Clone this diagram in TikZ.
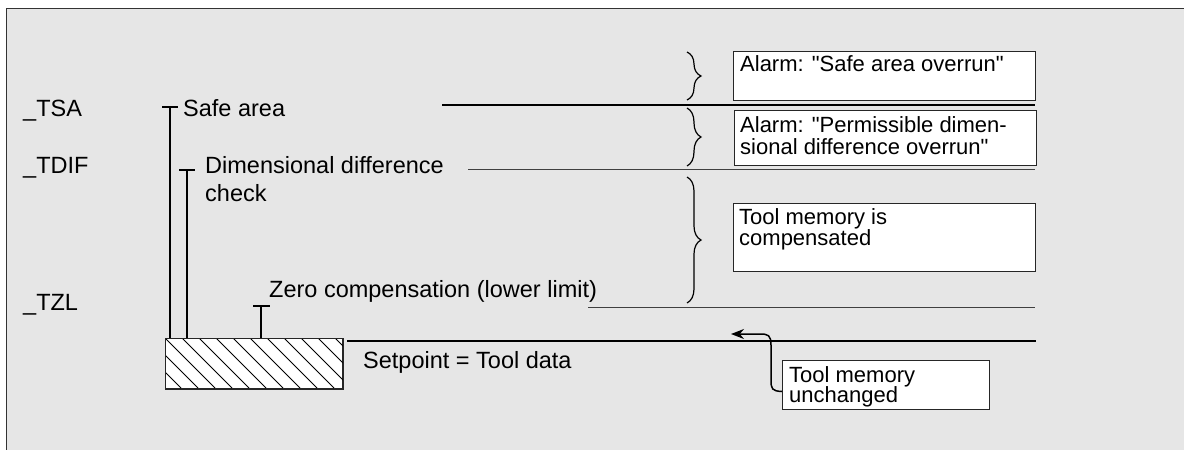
\documentclass[tikz,border=0pt]{standalone}
\usepackage{fontspec}
\setmainfont{Liberation Sans}
\usetikzlibrary{decorations.pathreplacing,arrows.meta}
\definecolor{panel}{HTML}{E6E6E6}
\begin{document}
\begin{tikzpicture}[x=1pt,y=-1pt,
  lbl/.style={anchor=base west,inner sep=0pt,font=\fontsize{23.5}{28}\selectfont},
  btxt/.style={anchor=base west,inner sep=0pt,align=left,font=\fontsize{22}{22}\selectfont},
  box/.style={draw=black!85,line width=1pt,fill=white,inner sep=0pt,anchor=north west},
  tbar/.style={line width=2pt,black},
  thickline/.style={line width=2.2pt,black},
  thinline/.style={line width=1pt,black!75},
  brc/.style={decorate,decoration={brace,amplitude=14pt},line width=1.2pt,black},
  arr/.style={line width=1.5pt,black,-{Stealth[length=13pt,width=10pt]}}]
\clip (0,0) rectangle (1184,450);
\filldraw[fill=panel,draw=black!80,line width=1pt] (6,8) rectangle (1200,470);

% left labels
\node[lbl] (tsa) at (23,116) {\_TSA};
\node[lbl] (tdif) at (23,173) {\_TDIF};
\node[lbl] (tzl) at (23,310) {\_TZL};

% hatched block
\node[draw=black!85,line width=1pt,fill=white,minimum width=177pt,minimum height=50pt,inner sep=0pt,anchor=north west] (blk) at (165,338) {};
\begin{scope}
\clip (blk.south west) rectangle (blk.north east);
\foreach \k in {-3,...,10}
  \draw[line width=0.9pt] (165+17*\k,338) -- (215+17*\k,388);
\end{scope}
\draw[draw=black!85,line width=1pt] (blk.south west) rectangle (blk.north east);

% T-bars
\coordinate (tsaT) at (170,107);
\coordinate (difT) at (187,170);
\coordinate (zerT) at (261,306);
\draw[tbar] (tsaT) -- (tsaT |- blk.north);
\draw[tbar] ([xshift=-8pt]tsaT) -- ([xshift=8pt]tsaT);
\draw[tbar] (difT) -- (difT |- blk.north);
\draw[tbar] ([xshift=-8pt]difT) -- ([xshift=8pt]difT);
\draw[tbar] (zerT) -- (zerT |- blk.north);
\draw[tbar] ([xshift=-8pt]zerT) -- ([xshift=9pt]zerT);

% labels
\node[lbl] (safe) at (183,116) {Safe area};
\node[lbl] (dim) at (205,173) {Dimensional difference};
\node[lbl] (chk) at (205,201) {check};
\node[lbl] (zero) at (269,297) {Zero compensation (lower limit)};
\node[lbl] (setp) at (363,368) {Setpoint = Tool data};

% level lines
\coordinate (l1a) at (442,105); \coordinate (l1b) at (1035,105);
\coordinate (l2a) at (468,169); \coordinate (l2b) at (1035,169);
\coordinate (l3a) at (588,307); \coordinate (l3b) at (1035,307);
\coordinate (l4a) at (347,341); \coordinate (l4b) at (1036,341);
\draw[thickline] (l1a) -- (l1b);
\draw[thinline] (l2a) -- (l2b);
\draw[thinline] (l3a) -- (l3b);
\draw[thickline] (l4a) -- (l4b);

% braces
\coordinate (br1a) at (687,52); \coordinate (br1b) at (687,100);
\coordinate (br2a) at (687,108); \coordinate (br2b) at (687,166);
\coordinate (br3a) at (687,177); \coordinate (br3b) at (687,303);
\draw[brc] (br1a) -- (br1b);
\draw[brc] (br2a) -- (br2b);
\draw[brc] (br3a) -- (br3b);

% boxes
\node[box,minimum width=302pt,minimum height=49pt] (b1) at (733,51) {};
\node[btxt] (b1t) at (740,71) {Alarm: \textquotedbl Safe area overrun\textquotedbl};
\node[box,minimum width=302pt,minimum height=55pt] (b2) at (734,110) {};
\node[btxt] (b2t) at (740,132) {Alarm: \textquotedbl Permissible dimen-};
\node[btxt] (b2u) at (740,154) {sional difference overrun\textquotedbl};
\node[box,minimum width=302pt,minimum height=68pt] (b3) at (733,203) {};
\node[btxt] (b3t) at (739,224) {Tool memory is};
\node[btxt] (b3u) at (739,245) {compensated};
\node[box,minimum width=207pt,minimum height=49pt] (b4) at (782,360) {};
\node[btxt] (b4t) at (789,382) {Tool memory};
\node[btxt] (b4u) at (789,402) {unchanged};

% arrow
\coordinate (tip) at (731,334);
\draw[arr] ([yshift=-6.5pt]b4.west) .. controls (772,391) and (771,389) .. (771,380)
  -- (771,345) .. controls (771,335) and (768,334) .. (760,334) -- (tip);
\end{tikzpicture}
\end{document}
